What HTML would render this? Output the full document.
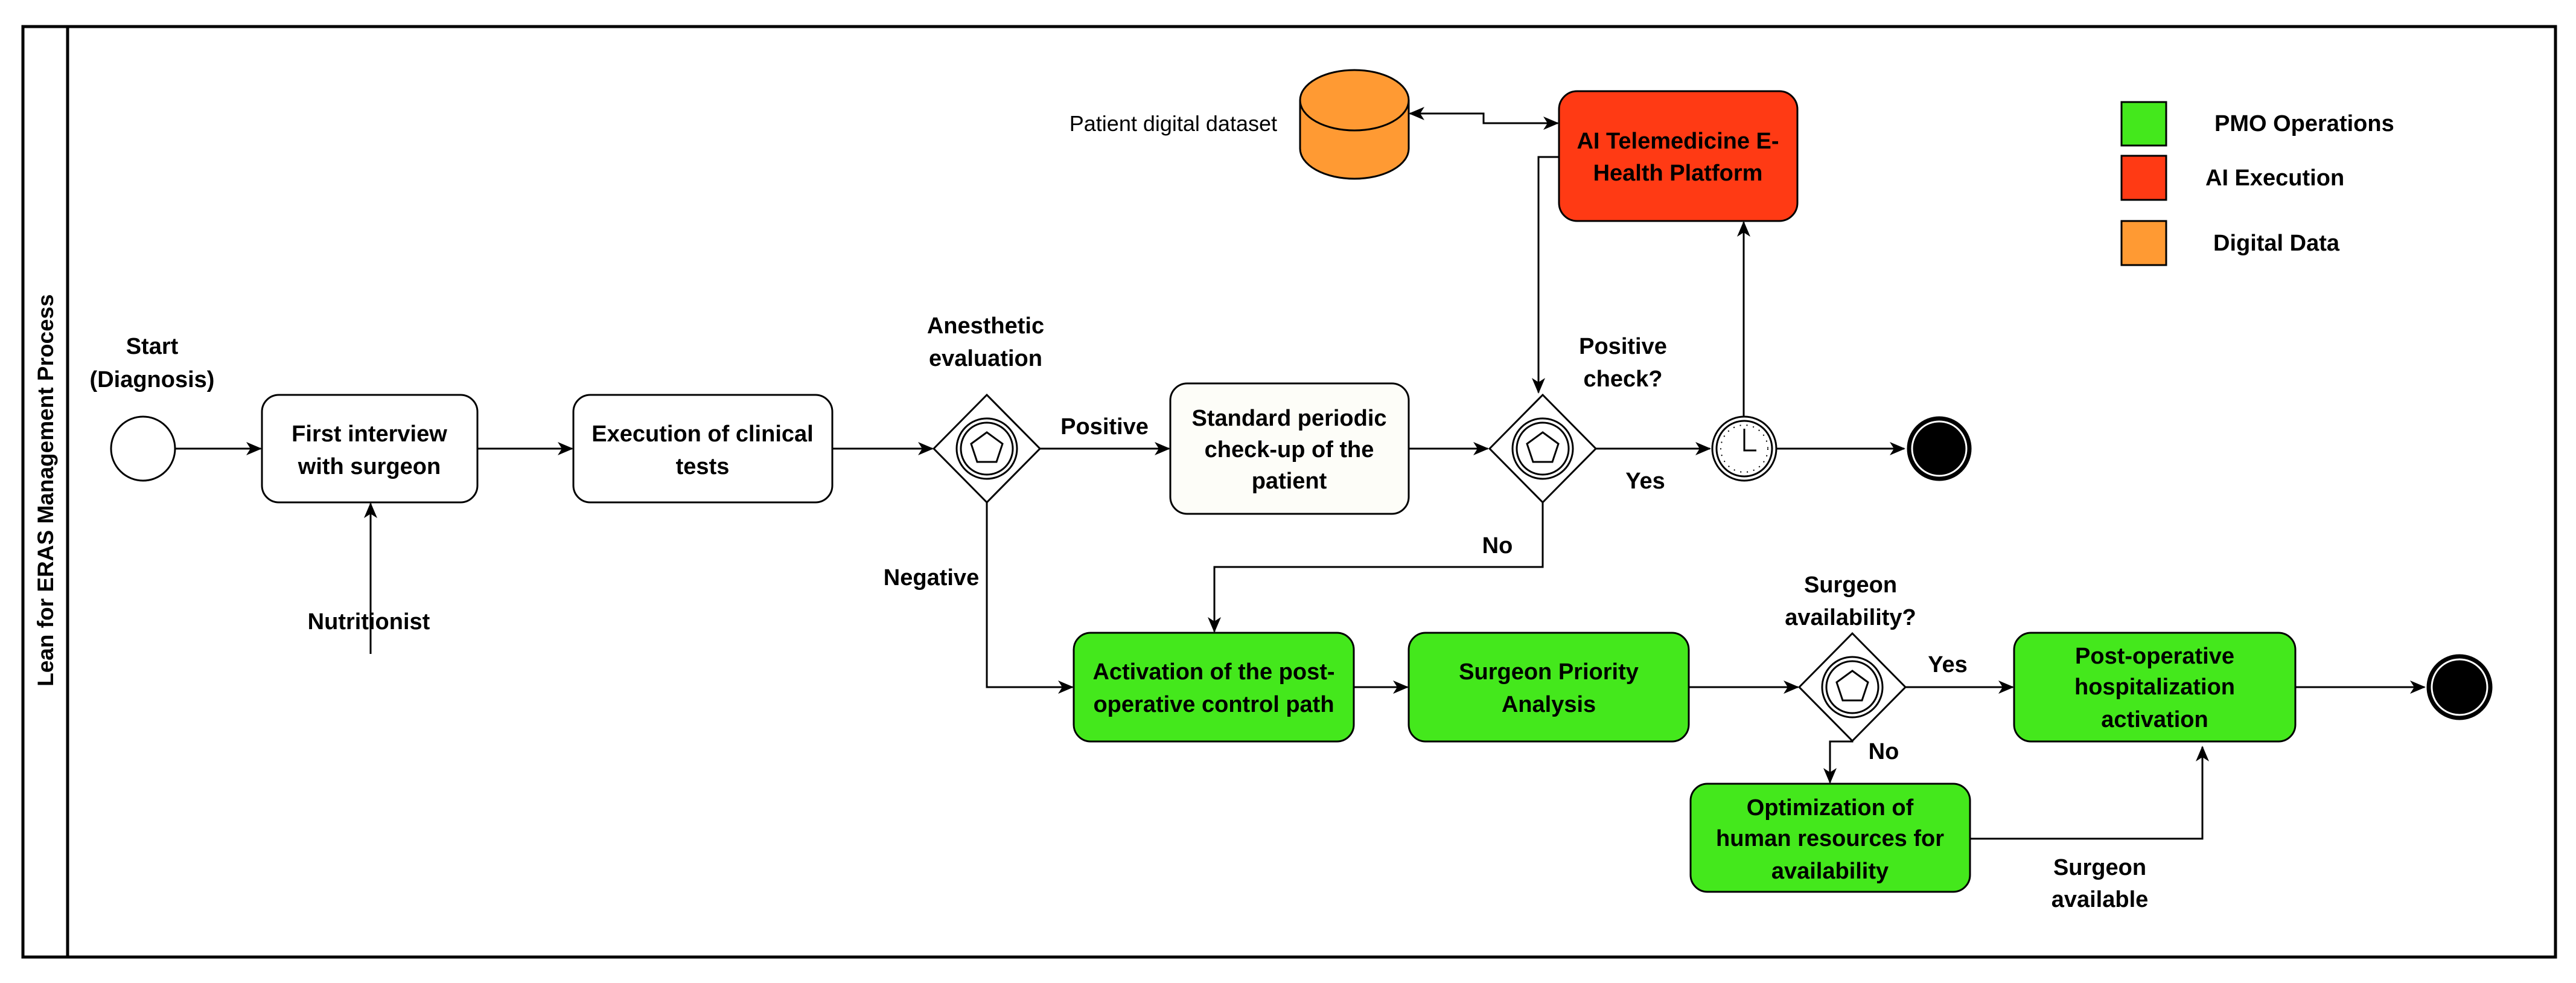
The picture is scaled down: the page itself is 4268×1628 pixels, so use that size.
<!DOCTYPE html>
<html><head><meta charset="utf-8"><style>
html,body{margin:0;padding:0;background:#fff}
svg{display:block}
text{font-family:"Liberation Sans Narrow","Liberation Sans",sans-serif;font-size:38px;fill:#000}
.b{font-weight:bold}
</style></head><body>
<svg width="4268" height="1628" viewBox="0 0 4268 1628" xmlns="http://www.w3.org/2000/svg">
<defs>
<marker id="A" markerWidth="26" markerHeight="26" refX="24" refY="13" orient="auto-start-reverse" markerUnits="userSpaceOnUse" viewBox="0 0 26 26">
<path d="M0,2 L26,13 L0,24 L7,13 Z" fill="#000"/></marker>
<g id="gw"><path d="M-88,0 L0,-89 L88,0 L0,89 Z" fill="#fff" stroke="#000" stroke-width="3"/>
<circle r="50" fill="none" stroke="#000" stroke-width="3"/><circle r="43" fill="none" stroke="#000" stroke-width="3"/>
<path d="M0,-27 L26,-8 L16,22 L-16,22 L-26,-8 Z" fill="none" stroke="#000" stroke-width="3"/></g>
</defs>
<g stroke="#000" stroke-width="5" fill="none">
<rect x="38" y="44" width="4196" height="1541"/>
<line x1="112" y1="44" x2="112" y2="1585"/>
</g>
<text class="b" transform="translate(88,812) rotate(-90)" text-anchor="middle" style="font-family:'Liberation Sans',sans-serif;font-size:37px">Lean for ERAS Management Process</text>

<g stroke="#000" stroke-width="3" fill="none">
<line x1="290" y1="743" x2="432" y2="743" marker-end="url(#A)"/>
<line x1="791" y1="743" x2="948" y2="743" marker-end="url(#A)"/>
<line x1="1379" y1="743" x2="1545" y2="743" marker-end="url(#A)"/>
<line x1="1723" y1="743" x2="1937" y2="743" marker-end="url(#A)"/>
<line x1="2334" y1="743" x2="2465" y2="743" marker-end="url(#A)"/>
<line x1="2644" y1="743" x2="2833" y2="743" marker-end="url(#A)"/>
<line x1="2944" y1="743" x2="3155" y2="743" marker-end="url(#A)"/>
<line x1="614" y1="1083" x2="614" y2="834" marker-end="url(#A)"/>
<polyline points="1635,832 1635,1138 1777,1138" marker-end="url(#A)"/>
<polyline points="2556,832 2556,939 2012,939 2012,1046" marker-end="url(#A)"/>
<polyline points="2583,260 2549,260 2549,650" marker-end="url(#A)"/>
<line x1="2889" y1="689" x2="2889" y2="368" marker-end="url(#A)"/>
<polyline points="2336,188 2458,188 2458,204 2581,204" marker-start="url(#A)" marker-end="url(#A)"/>
<line x1="2243" y1="1138" x2="2332" y2="1138" marker-end="url(#A)"/>
<line x1="2798" y1="1138" x2="2979" y2="1138" marker-end="url(#A)"/>
<line x1="3158" y1="1138" x2="3335" y2="1138" marker-end="url(#A)"/>
<line x1="3803" y1="1138" x2="4017" y2="1138" marker-end="url(#A)"/>
<polyline points="3069,1227 3069,1228 3032,1228 3032,1296" marker-end="url(#A)"/>
<polyline points="3264,1389 3649,1389 3649,1237" marker-end="url(#A)"/>
</g>

<circle cx="237" cy="743" r="53" fill="#fff" stroke="#000" stroke-width="3"/>
<text class="b" x="252" y="586" text-anchor="middle">Start</text>
<text class="b" x="252" y="641" text-anchor="middle">(Diagnosis)</text>

<g stroke="#000" stroke-width="3">
<rect x="434" y="654" width="357" height="178" rx="28" fill="#fff"/>
<rect x="950" y="654" width="429" height="178" rx="28" fill="#fff"/>
<rect x="1939" y="635" width="395" height="216" rx="28" fill="#fdfdf8"/>
<rect x="2583" y="151" width="395" height="215" rx="30" fill="#ff3a14"/>
<rect x="1779" y="1048" width="464" height="180" rx="28" fill="#44e81c"/>
<rect x="2334" y="1048" width="464" height="180" rx="28" fill="#44e81c"/>
<rect x="3337" y="1048" width="466" height="180" rx="28" fill="#44e81c"/>
<rect x="2801" y="1298" width="463" height="179" rx="28" fill="#44e81c"/>
</g>
<text class="b" x="612" y="731" text-anchor="middle">First interview</text>
<text class="b" x="612" y="785" text-anchor="middle">with surgeon</text>
<text class="b" x="1164" y="731" text-anchor="middle">Execution of clinical</text>
<text class="b" x="1164" y="785" text-anchor="middle">tests</text>
<text class="b" x="2136" y="705" text-anchor="middle">Standard periodic</text>
<text class="b" x="2136" y="757" text-anchor="middle">check-up of the</text>
<text class="b" x="2136" y="809" text-anchor="middle">patient</text>
<text class="b" x="2780" y="246" text-anchor="middle">AI Telemedicine E-</text>
<text class="b" x="2780" y="299" text-anchor="middle">Health Platform</text>
<text class="b" x="2011" y="1125" text-anchor="middle">Activation of the post-</text>
<text class="b" x="2011" y="1179" text-anchor="middle">operative control path</text>
<text class="b" x="2566" y="1125" text-anchor="middle">Surgeon Priority</text>
<text class="b" x="2566" y="1179" text-anchor="middle">Analysis</text>
<text class="b" x="3570" y="1099" text-anchor="middle">Post-operative</text>
<text class="b" x="3570" y="1150" text-anchor="middle">hospitalization</text>
<text class="b" x="3570" y="1204" text-anchor="middle">activation</text>
<text class="b" x="3032" y="1350" text-anchor="middle">Optimization of</text>
<text class="b" x="3032" y="1401" text-anchor="middle">human resources for</text>
<text class="b" x="3032" y="1455" text-anchor="middle">availability</text>

<use href="#gw" x="1635" y="743"/>
<use href="#gw" x="2556" y="743"/>
<use href="#gw" x="3069" y="1138"/>

<g stroke="#000" fill="none">
<circle cx="2890" cy="743" r="53" stroke-width="3" fill="#fff"/>
<circle cx="2890" cy="743" r="46" stroke-width="3"/>
<circle cx="2890" cy="743" r="39" stroke-width="2" stroke-dasharray="2 9"/>
<polyline points="2890,710 2890,746 2910,746" stroke-width="3"/>
</g>
<circle cx="3213" cy="743" r="52" fill="#000" stroke="#000" stroke-width="3"/>
<circle cx="3213" cy="743" r="45" fill="#000" stroke="#fff" stroke-width="3"/>
<circle cx="4075" cy="1138" r="53" fill="#000" stroke="#000" stroke-width="3"/>
<circle cx="4075" cy="1138" r="46" fill="#000" stroke="#fff" stroke-width="3"/>

<g stroke="#000" stroke-width="3" fill="#ff9a33">
<path d="M2154,166 L2154,246 A90,50 0 0 0 2334,246 L2334,166"/>
<ellipse cx="2244" cy="166" rx="90" ry="50"/>
</g>
<text x="2116" y="217" text-anchor="end" style="font-size:36px">Patient digital dataset</text>

<text class="b" x="1633" y="552" text-anchor="middle">Anesthetic</text>
<text class="b" x="1633" y="606" text-anchor="middle">evaluation</text>
<text class="b" x="1830" y="719" text-anchor="middle">Positive</text>
<text class="b" x="1543" y="969" text-anchor="middle">Negative</text>
<text class="b" x="611" y="1042" text-anchor="middle">Nutritionist</text>
<text class="b" x="2689" y="586" text-anchor="middle">Positive</text>
<text class="b" x="2689" y="640" text-anchor="middle">check?</text>
<text class="b" x="2726" y="809" text-anchor="middle">Yes</text>
<text class="b" x="2481" y="916" text-anchor="middle">No</text>
<text class="b" x="3066" y="981" text-anchor="middle">Surgeon</text>
<text class="b" x="3066" y="1035" text-anchor="middle">availability?</text>
<text class="b" x="3227" y="1113" text-anchor="middle">Yes</text>
<text class="b" x="3121" y="1257" text-anchor="middle">No</text>
<text class="b" x="3479" y="1449" text-anchor="middle">Surgeon</text>
<text class="b" x="3479" y="1502" text-anchor="middle">available</text>

<g stroke="#000" stroke-width="3">
<rect x="3515" y="169" width="74" height="72" fill="#44e81c"/>
<rect x="3515" y="258" width="74" height="73" fill="#ff3a14"/>
<rect x="3515" y="366" width="74" height="73" fill="#ff9a33"/>
</g>
<text class="b" x="3669" y="217">PMO Operations</text>
<text class="b" x="3654" y="307">AI Execution</text>
<text class="b" x="3667" y="415">Digital Data</text>
</svg>
</body></html>
